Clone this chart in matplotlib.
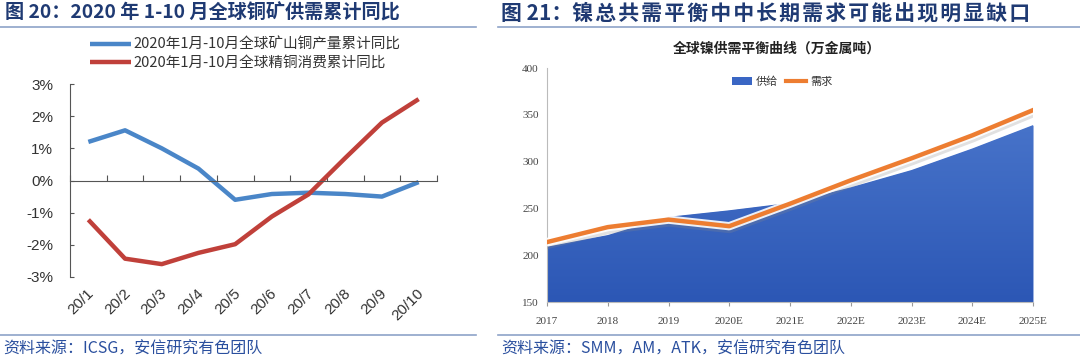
import matplotlib
matplotlib.use("Agg")
import matplotlib.pyplot as plt
import matplotlib.patheffects as pe
from matplotlib.colors import LinearSegmentedColormap
from matplotlib.lines import Line2D
import matplotlib.transforms as mtransforms
import numpy as np

plt.rcParams['font.family'] = ['Noto Sans CJK SC', 'DejaVu Sans']

# ---------------- data ----------------
months = ["20/1", "20/2", "20/3", "20/4", "20/5", "20/6", "20/7", "20/8", "20/9", "20/10"]
mine_yoy = [1.2, 1.56, 1.0, 0.37, -0.6, -0.42, -0.38, -0.42, -0.5, -0.05]
refined_yoy = [-1.22, -2.43, -2.6, -2.25, -1.98, -1.12, -0.43, 0.7, 1.8, 2.53]
left_yticks = [-3, -2, -1, 0, 1, 2, 3]
left_ytick_labels = ["-3%", "-2%", "-1%", "0%", "1%", "2%", "3%"]
mine_label = "2020年1月-10月全球矿山铜产量累计同比"
refined_label = "2020年1月-10月全球精铜消费累计同比"

years = ["2017", "2018", "2019", "2020E", "2021E", "2022E", "2023E", "2024E", "2025E"]
nickel_supply = [209, 221.5, 241, 248, 256, 272.5, 291, 314, 339]
nickel_demand = [214, 230, 238, 231, 255, 280, 303.5, 328, 355]
right_yticks = [150, 200, 250, 300, 350, 400]

W, H = 1080, 361
fig = plt.figure(figsize=(W / 100, H / 100), dpi=100)

title_color = "#1F3A73"
line_color = "#8EA3C8"
src_color = "#2A4F9E"

def px(x0, y0, x1, y1):
    return [x0 / W, 1 - y1 / H, (x1 - x0) / W, (y1 - y0) / H]

# ---------- headers / footers ----------
fig.text(5 / W, 1 - 13 / H, "图 20：2020 年 1-10 月全球铜矿供需累计同比", fontsize=13.8,
         fontweight='bold', color=title_color, va='center', ha='left')
right_title = "图 21：" + "\u200a".join("镍总共需平衡中中长期需求可能出现明显缺口")
fig.text(501 / W, 1 - 13 / H, right_title, fontsize=15,
         fontweight='bold', color=title_color, va='center', ha='left')
fig.add_artist(Line2D([0 / W, 476 / W], [1 - 27 / H] * 2, color=line_color, lw=1.2))
fig.add_artist(Line2D([498 / W, 1080 / W], [1 - 27 / H] * 2, color=line_color, lw=1.2))
fig.add_artist(Line2D([0 / W, 476 / W], [1 - 335 / H] * 2, color=line_color, lw=1.2))
fig.add_artist(Line2D([498 / W, 1080 / W], [1 - 335 / H] * 2, color=line_color, lw=1.2))
fig.text(3 / W, 1 - 349 / H, "资料来源：ICSG，安信研究有色团队", fontsize=11.5, color=src_color,
         va='center', ha='left', style='italic')
fig.text(501 / W, 1 - 349 / H, "资料来源：SMM，AM，ATK，安信研究有色团队", fontsize=11.5, color=src_color,
         va='center', ha='left', style='italic')

# ---------------- left chart ----------------
axL = fig.add_axes(px(70, 84, 437, 277))
x = np.arange(len(months))
axL.plot(x, mine_yoy, color="#4A86C8", lw=3.2, solid_capstyle='butt', label=mine_label)
axL.plot(x, refined_yoy, color="#C0403A", lw=3.2, solid_capstyle='butt', label=refined_label)
axL.set_xlim(-0.5, len(months) - 0.5)
axL.set_ylim(-3, 3)
axL.set_yticks(left_yticks)
axL.set_yticklabels(left_ytick_labels, fontfamily=['Liberation Sans', 'DejaVu Sans'], fontsize=11, color="#333333")
axL.tick_params(axis='y', direction='in', length=3, pad=12, color="#555555")
for s in ['top', 'right']:
    axL.spines[s].set_visible(False)
axL.spines['left'].set_color("#555555")
axL.spines['bottom'].set_position(('data', 0))
axL.spines['bottom'].set_color("#555555")
axL.set_xticks(np.arange(-0.5, len(months), 1.0))
axL.set_xticklabels([])
axL.tick_params(axis='x', direction='in', length=4, color="#555555")
trans = mtransforms.blended_transform_factory(axL.transData, axL.transAxes)
for i, m in enumerate(months):
    axL.text(i + 0.08, -0.075, m, transform=trans, rotation=45, ha='right', va='center',
             rotation_mode='anchor', fontsize=11, color="#333333",
             fontfamily=['Liberation Sans', 'DejaVu Sans'])
leg = axL.legend(loc='upper left', bbox_to_anchor=(20 / 367, 1 + 46 / 193), frameon=False,
                 fontsize=10.5, handlelength=2.8, handletextpad=0.2, labelspacing=0.25,
                 borderaxespad=0, borderpad=0)
for t in leg.get_texts():
    t.set_color("#333333")

# ---------------- right chart ----------------
axR = fig.add_axes(px(547, 68, 1033, 302))
xr = np.arange(len(years))
cmap = LinearSegmentedColormap.from_list("bl", ["#4874CA", "#2C57B5"])
poly = axR.fill_between(xr, 150, nickel_supply, color="#3A66C4", lw=0, label="供给", zorder=1)
grad = np.linspace(0, 1, 256).reshape(-1, 1)
im = axR.imshow(grad, cmap=cmap, aspect='auto', extent=[0, len(years) - 1, 150, 345],
                origin='upper', zorder=1.5)
im.set_clip_path(poly.get_paths()[0], transform=axR.transData)
axR.plot(xr, nickel_demand, color="#ED7D31", lw=3.2, zorder=3,
         path_effects=[pe.SimpleLineShadow(offset=(0.3, -1.8), shadow_color='#888888', alpha=0.25, linewidth=6.5),
                       pe.Stroke(linewidth=6, foreground='white', alpha=0.9),
                       pe.Normal()])
axR.set_xlim(0, len(years) - 1)
axR.set_ylim(150, 400)
axR.set_yticks(right_yticks)
axR.set_xticks(xr)
axR.set_xticklabels(years)
for lab in axR.get_xticklabels() + axR.get_yticklabels():
    lab.set_fontfamily(['Liberation Serif', 'DejaVu Serif'])
    lab.set_fontsize(8)
    lab.set_color("#444444")
axR.tick_params(axis='y', length=0, pad=6)
axR.tick_params(axis='x', length=3, pad=8, color="#999999")
for s in ['top', 'right']:
    axR.spines[s].set_visible(False)
axR.spines['left'].set_color("#BBBBBB")
axR.spines['bottom'].set_color("#BBBBBB")
axR.set_title("全球镍供需平衡曲线（万金属吨）", fontsize=10, fontweight='bold', color="#222222",
              pad=11, x=(777 - 547) / 486)
demand_handle = Line2D([], [], color="#ED7D31", lw=3)
lg = axR.legend(handles=[poly, demand_handle], labels=["供给", "需求"], loc='center',
                bbox_to_anchor=((782 - 547) / 486, 1 + (68 - 82) / 234), ncol=2, frameon=False,
                fontsize=8, handlelength=1.8, handletextpad=0.3, columnspacing=0.8,
                borderaxespad=0, borderpad=0)
for t in lg.get_texts():
    t.set_color("#333333")

fig.savefig("out.png", dpi=100)
